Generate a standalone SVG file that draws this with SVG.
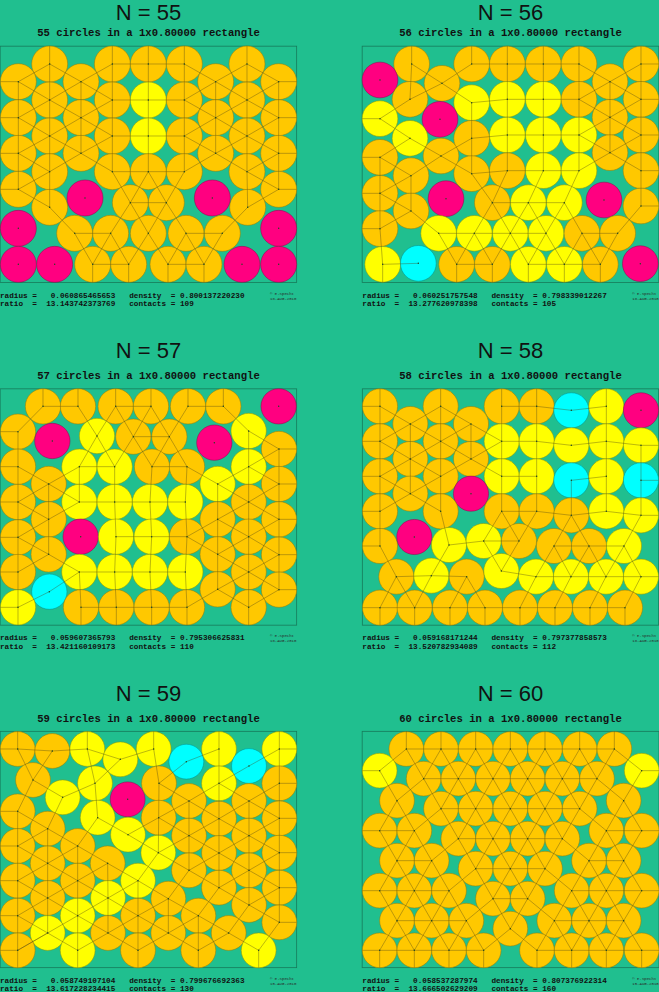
<svg xmlns="http://www.w3.org/2000/svg" width="659" height="992" viewBox="0 0 659 992">
<style>
.bg{fill:#20BF8F}
.frame{fill:none;stroke:#177a5a;stroke-width:2.4}
.o{fill:#FFC800;stroke:#9a7800;stroke-width:1.5}
.y{fill:#FFFF00;stroke:#909000;stroke-width:1.5}
.m{fill:#FF0080;stroke:#900048;stroke-width:1.5}
.c{fill:#00FFFF;stroke:#008c8c;stroke-width:1.5}
.sp{fill:none;stroke:#4a4418;stroke-width:1.6;stroke-linejoin:bevel;stroke-opacity:0.7}
.dot{fill:none;stroke:#1f4a20;stroke-width:4.5;stroke-linecap:round}
.t{font-family:"Liberation Sans",Arial,sans-serif;font-size:22px;fill:#111;text-anchor:middle}
.s{font-family:"Liberation Mono","Courier New",monospace;font-weight:bold;font-size:10.6px;fill:#111;text-anchor:middle}
.d{font-family:"Liberation Mono","Courier New",monospace;font-weight:bold;font-size:7.7px;fill:#111;white-space:pre}
.cr{font-family:"Liberation Mono","Courier New",monospace;font-size:4px;fill:#2a2a2a}
</style>
<rect class="bg" x="0" y="0" width="659" height="992"/>

<g id="panel-55">
<text class="t" x="148.5" y="20">N = 55</text>
<text class="s" x="148.5" y="36.3">55 circles in a 1x0.80000 rectangle</text>
<text class="d" xml:space="preserve" x="0" y="297.7">radius =   0.060865465653   density  = 0.800137220230</text>
<text class="d" xml:space="preserve" x="0" y="306.3">ratio  =  13.143742373769   contacts = 109</text>
<text class="cr" x="270" y="294.5">© E.Specht</text>
<text class="cr" x="270" y="299.5">18-AUG-2010</text>
<g transform="scale(0.333333)">
<rect class="frame" x="0.5" y="138.5" width="889.5" height="709"/>
<circle class="o" cx="149" cy="192" r="54"/><circle class="o" cx="337" cy="192" r="54"/><circle class="o" cx="445" cy="192" r="54"/><circle class="o" cx="553" cy="192" r="54"/><circle class="o" cx="741" cy="192" r="54"/>
<circle class="o" cx="55" cy="245" r="54"/><circle class="o" cx="243" cy="245" r="54"/><circle class="o" cx="647" cy="245" r="54"/><circle class="o" cx="836" cy="245" r="54"/>
<circle class="o" cx="149" cy="300" r="54"/><circle class="o" cx="337" cy="300" r="54"/><circle class="y" cx="445" cy="300" r="54"/><circle class="o" cx="553" cy="300" r="54"/><circle class="o" cx="741" cy="300" r="54"/>
<circle class="o" cx="55" cy="353" r="54"/><circle class="o" cx="243" cy="353" r="54"/><circle class="o" cx="647" cy="353" r="54"/><circle class="o" cx="836" cy="353" r="54"/>
<circle class="o" cx="149" cy="408" r="54"/><circle class="o" cx="337" cy="408" r="54"/><circle class="y" cx="445" cy="408" r="54"/><circle class="o" cx="553" cy="408" r="54"/><circle class="o" cx="741" cy="408" r="54"/>
<circle class="o" cx="55" cy="460" r="54"/><circle class="o" cx="243" cy="460" r="54"/><circle class="o" cx="647" cy="460" r="54"/><circle class="o" cx="836" cy="460" r="54"/>
<circle class="o" cx="149" cy="515" r="54"/><circle class="o" cx="337" cy="515" r="54"/><circle class="o" cx="445" cy="515" r="54"/><circle class="o" cx="553" cy="515" r="54"/><circle class="o" cx="741" cy="515" r="54"/>
<circle class="o" cx="55" cy="568" r="54"/><circle class="o" cx="836" cy="568" r="54"/>
<circle class="o" cx="149" cy="622" r="54"/><circle class="o" cx="743" cy="622" r="54"/>
<circle class="m" cx="255" cy="594" r="54"/><circle class="o" cx="391" cy="608" r="54"/><circle class="o" cx="499" cy="608" r="54"/><circle class="m" cx="637" cy="594" r="54"/>
<circle class="m" cx="55" cy="685" r="54"/><circle class="o" cx="224" cy="700" r="54"/><circle class="o" cx="332" cy="700" r="54"/><circle class="o" cx="445" cy="700" r="54"/><circle class="o" cx="558" cy="700" r="54"/><circle class="o" cx="667" cy="700" r="54"/><circle class="m" cx="836" cy="685" r="54"/>
<circle class="m" cx="55" cy="793" r="54"/><circle class="m" cx="164" cy="793" r="54"/><circle class="o" cx="278" cy="793" r="54"/><circle class="o" cx="386" cy="793" r="54"/><circle class="o" cx="504" cy="793" r="54"/><circle class="o" cx="612" cy="793" r="54"/><circle class="m" cx="726" cy="793" r="54"/><circle class="m" cx="836" cy="793" r="54"/>
</g>
</g>

<g id="panel-56">
<text class="t" x="510.5" y="20">N = 56</text>
<text class="s" x="510.5" y="36.3">56 circles in a 1x0.80000 rectangle</text>
<text class="d" xml:space="preserve" x="362.3" y="297.7">radius =   0.060251757548   density  = 0.798339012267</text>
<text class="d" xml:space="preserve" x="362.3" y="306.3">ratio  =  13.277620978398   contacts = 105</text>
<text class="cr" x="632.3" y="294.5">© E.Specht</text>
<text class="cr" x="632.3" y="299.5">18-AUG-2010</text>
<g transform="translate(330 0) scale(0.333333)">
<rect class="frame" x="96.5" y="138.5" width="890" height="709"/>
<circle class="o" cx="245" cy="192" r="53.6"/><circle class="o" cx="425" cy="192" r="53.6"/><circle class="o" cx="532" cy="192" r="53.6"/><circle class="o" cx="640" cy="192" r="53.6"/><circle class="o" cx="747" cy="192" r="53.6"/><circle class="o" cx="933" cy="192" r="53.6"/>
<circle class="m" cx="150" cy="240" r="53.6"/><circle class="o" cx="336" cy="250" r="53.6"/><circle class="o" cx="840" cy="245" r="53.6"/>
<circle class="o" cx="240" cy="298" r="53.6"/><circle class="y" cx="425" cy="308" r="53.6"/><circle class="y" cx="532" cy="298" r="53.6"/><circle class="y" cx="640" cy="298" r="53.6"/><circle class="o" cx="747" cy="298" r="53.6"/><circle class="o" cx="933" cy="298" r="53.6"/>
<circle class="y" cx="150" cy="356" r="53.6"/><circle class="m" cx="330" cy="358" r="53.6"/><circle class="o" cx="840" cy="352" r="53.6"/>
<circle class="y" cx="240" cy="415" r="53.6"/><circle class="o" cx="425" cy="415" r="53.6"/><circle class="y" cx="532" cy="405" r="53.6"/><circle class="y" cx="640" cy="405" r="53.6"/><circle class="y" cx="747" cy="405" r="53.6"/><circle class="o" cx="933" cy="405" r="53.6"/>
<circle class="o" cx="150" cy="472" r="53.6"/><circle class="o" cx="333" cy="468" r="53.6"/><circle class="o" cx="840" cy="458" r="53.6"/>
<circle class="o" cx="243" cy="527" r="53.6"/><circle class="o" cx="425" cy="521" r="53.6"/><circle class="o" cx="532" cy="512" r="53.6"/><circle class="y" cx="640" cy="512" r="53.6"/><circle class="y" cx="747" cy="512" r="53.6"/><circle class="o" cx="933" cy="512" r="53.6"/>
<circle class="o" cx="150" cy="580" r="53.6"/><circle class="m" cx="348" cy="596" r="53.6"/><circle class="o" cx="487" cy="608" r="53.6"/><circle class="y" cx="595" cy="608" r="53.6"/><circle class="y" cx="703" cy="608" r="53.6"/><circle class="m" cx="822" cy="600" r="53.6"/><circle class="o" cx="933" cy="618" r="53.6"/>
<circle class="o" cx="243" cy="633" r="53.6"/>
<circle class="o" cx="150" cy="686" r="53.6"/><circle class="y" cx="326" cy="700" r="53.6"/><circle class="y" cx="433" cy="700" r="53.6"/><circle class="y" cx="541" cy="700" r="53.6"/><circle class="y" cx="648" cy="700" r="53.6"/><circle class="o" cx="756" cy="700" r="53.6"/><circle class="o" cx="863" cy="700" r="53.6"/>
<circle class="y" cx="158" cy="793" r="53.6"/><circle class="c" cx="265" cy="790" r="53.6"/><circle class="o" cx="380" cy="793" r="53.6"/><circle class="o" cx="487" cy="793" r="53.6"/><circle class="y" cx="595" cy="793" r="53.6"/><circle class="y" cx="703" cy="793" r="53.6"/><circle class="o" cx="811" cy="793" r="53.6"/><circle class="m" cx="931" cy="791" r="53.6"/>
</g>
</g>

<g id="panel-57">
<text class="t" x="148.5" y="358.3">N = 57</text>
<text class="s" x="148.5" y="379">57 circles in a 1x0.80000 rectangle</text>
<text class="d" xml:space="preserve" x="0" y="640.3">radius =   0.059607365793   density  = 0.795306625831</text>
<text class="d" xml:space="preserve" x="0" y="648.9">ratio  =  13.421160109173   contacts = 110</text>
<text class="cr" x="270" y="637.1">© E.Specht</text>
<text class="cr" x="270" y="642.1">18-AUG-2010</text>
<g transform="translate(0 330) scale(0.333333)">
<rect class="frame" x="0.5" y="176.5" width="889.5" height="709"/>
<circle class="o" cx="129" cy="229" r="53"/><circle class="o" cx="234" cy="229" r="53"/><circle class="o" cx="347" cy="229" r="53"/><circle class="o" cx="453" cy="229" r="53"/><circle class="o" cx="564" cy="229" r="53"/><circle class="o" cx="670" cy="229" r="53"/><circle class="m" cx="836" cy="229" r="53"/>
<circle class="o" cx="54" cy="305" r="53"/><circle class="m" cx="157" cy="333" r="53"/><circle class="y" cx="291" cy="318" r="53"/><circle class="o" cx="400" cy="320" r="53"/><circle class="o" cx="508" cy="320" r="53"/><circle class="m" cx="643" cy="338" r="53"/><circle class="y" cx="746" cy="303" r="53"/>
<circle class="o" cx="54" cy="410" r="53"/><circle class="y" cx="238" cy="410" r="53"/><circle class="y" cx="344" cy="410" r="53"/><circle class="o" cx="456" cy="410" r="53"/><circle class="o" cx="561" cy="410" r="53"/><circle class="y" cx="746" cy="410" r="53"/><circle class="o" cx="837" cy="357" r="53"/>
<circle class="o" cx="146" cy="462" r="53"/><circle class="y" cx="653" cy="462" r="53"/><circle class="o" cx="837" cy="462" r="53"/>
<circle class="o" cx="54" cy="516" r="53"/><circle class="y" cx="238" cy="516" r="53"/><circle class="y" cx="344" cy="516" r="53"/><circle class="y" cx="450" cy="516" r="53"/><circle class="y" cx="556" cy="516" r="53"/><circle class="o" cx="746" cy="516" r="53"/>
<circle class="o" cx="146" cy="568" r="53"/><circle class="o" cx="653" cy="568" r="53"/><circle class="o" cx="837" cy="568" r="53"/>
<circle class="o" cx="54" cy="622" r="53"/><circle class="m" cx="242" cy="620" r="53"/><circle class="y" cx="348" cy="620" r="53"/><circle class="y" cx="455" cy="620" r="53"/><circle class="o" cx="561" cy="620" r="53"/><circle class="o" cx="746" cy="620" r="53"/>
<circle class="o" cx="146" cy="673" r="53"/><circle class="o" cx="653" cy="673" r="53"/><circle class="o" cx="837" cy="674" r="53"/>
<circle class="o" cx="54" cy="726" r="53"/><circle class="y" cx="238" cy="726" r="53"/><circle class="y" cx="344" cy="726" r="53"/><circle class="y" cx="450" cy="726" r="53"/><circle class="y" cx="556" cy="726" r="53"/><circle class="o" cx="746" cy="726" r="53"/>
<circle class="c" cx="148" cy="785" r="53"/><circle class="o" cx="653" cy="778" r="53"/><circle class="o" cx="837" cy="779" r="53"/>
<circle class="y" cx="54" cy="832" r="53"/><circle class="o" cx="243" cy="832" r="53"/><circle class="o" cx="349" cy="832" r="53"/><circle class="o" cx="455" cy="832" r="53"/><circle class="o" cx="561" cy="832" r="53"/><circle class="o" cx="746" cy="832" r="53"/>
</g>
</g>

<g id="panel-58">
<text class="t" x="510.5" y="358.3">N = 58</text>
<text class="s" x="510.5" y="379">58 circles in a 1x0.80000 rectangle</text>
<text class="d" xml:space="preserve" x="362.3" y="640.3">radius =   0.059168171244   density  = 0.797377858573</text>
<text class="d" xml:space="preserve" x="362.3" y="648.9">ratio  =  13.520782934089   contacts = 112</text>
<text class="cr" x="632.3" y="637.1">© E.Specht</text>
<text class="cr" x="632.3" y="642.1">18-AUG-2010</text>
<g transform="translate(330 330) scale(0.333333)">
<rect class="frame" x="97" y="176.5" width="889" height="709"/>
<circle class="o" cx="150" cy="229" r="52.7"/><circle class="o" cx="332" cy="229" r="52.7"/><circle class="o" cx="515" cy="229" r="52.7"/><circle class="o" cx="620" cy="229" r="52.7"/><circle class="c" cx="724" cy="241" r="52.7"/><circle class="y" cx="829" cy="229" r="52.7"/><circle class="m" cx="933" cy="241" r="52.7"/>
<circle class="o" cx="241" cy="282" r="52.7"/><circle class="o" cx="423" cy="282" r="52.7"/>
<circle class="o" cx="150" cy="334" r="52.7"/><circle class="o" cx="332" cy="334" r="52.7"/><circle class="y" cx="515" cy="334" r="52.7"/><circle class="y" cx="620" cy="334" r="52.7"/><circle class="y" cx="724" cy="346" r="52.7"/><circle class="y" cx="829" cy="334" r="52.7"/><circle class="y" cx="933" cy="346" r="52.7"/>
<circle class="o" cx="241" cy="387" r="52.7"/><circle class="o" cx="423" cy="387" r="52.7"/>
<circle class="o" cx="150" cy="439" r="52.7"/><circle class="o" cx="332" cy="439" r="52.7"/><circle class="y" cx="515" cy="439" r="52.7"/><circle class="y" cx="620" cy="439" r="52.7"/><circle class="c" cx="724" cy="451" r="52.7"/><circle class="y" cx="829" cy="439" r="52.7"/><circle class="c" cx="933" cy="451" r="52.7"/>
<circle class="o" cx="241" cy="491" r="52.7"/><circle class="m" cx="423" cy="491" r="52.7"/>
<circle class="o" cx="150" cy="544" r="52.7"/><circle class="o" cx="332" cy="544" r="52.7"/><circle class="o" cx="515" cy="544" r="52.7"/><circle class="o" cx="620" cy="544" r="52.7"/><circle class="o" cx="724" cy="556" r="52.7"/><circle class="y" cx="829" cy="544" r="52.7"/><circle class="y" cx="933" cy="556" r="52.7"/>
<circle class="o" cx="150" cy="648" r="52.7"/><circle class="m" cx="253" cy="621" r="52.7"/><circle class="y" cx="357" cy="645" r="52.7"/><circle class="y" cx="461" cy="633" r="52.7"/><circle class="o" cx="567" cy="633" r="52.7"/><circle class="o" cx="672" cy="648" r="52.7"/><circle class="o" cx="777" cy="648" r="52.7"/><circle class="y" cx="882" cy="648" r="52.7"/>
<circle class="o" cx="199" cy="740" r="52.7"/><circle class="y" cx="304" cy="737" r="52.7"/><circle class="o" cx="410" cy="740" r="52.7"/><circle class="y" cx="514" cy="723" r="52.7"/><circle class="y" cx="618" cy="740" r="52.7"/><circle class="y" cx="723" cy="740" r="52.7"/><circle class="y" cx="828" cy="740" r="52.7"/><circle class="y" cx="933" cy="740" r="52.7"/>
<circle class="o" cx="150" cy="833" r="52.7"/><circle class="o" cx="254" cy="833" r="52.7"/><circle class="o" cx="360" cy="833" r="52.7"/><circle class="o" cx="465" cy="833" r="52.7"/><circle class="o" cx="570" cy="833" r="52.7"/><circle class="o" cx="675" cy="833" r="52.7"/><circle class="o" cx="780" cy="833" r="52.7"/><circle class="o" cx="885" cy="833" r="52.7"/>
</g>
</g>

<g id="panel-59">
<text class="t" x="148.5" y="700.7">N = 59</text>
<text class="s" x="148.5" y="721.5">59 circles in a 1x0.80000 rectangle</text>
<text class="d" xml:space="preserve" x="0" y="982.7">radius =   0.058749107104   density  = 0.799676692363</text>
<text class="d" xml:space="preserve" x="0" y="991.3">ratio  =  13.617228234415   contacts = 130</text>
<text class="cr" x="270" y="979.5">© E.Specht</text>
<text class="cr" x="270" y="984.5">15-AUG-2010</text>
<g transform="translate(0 670) scale(0.333333)">
<rect class="frame" x="0.5" y="184" width="889.5" height="709"/>
<circle class="o" cx="53" cy="237" r="52.3"/><circle class="o" cx="157" cy="243" r="52.3"/><circle class="y" cx="262" cy="237" r="52.3"/><circle class="y" cx="361" cy="268" r="52.3"/><circle class="y" cx="461" cy="237" r="52.3"/><circle class="c" cx="559" cy="275" r="52.3"/><circle class="y" cx="657" cy="237" r="52.3"/><circle class="c" cx="747" cy="288" r="52.3"/><circle class="y" cx="838" cy="237" r="52.3"/>
<circle class="o" cx="99" cy="330" r="52.3"/><circle class="y" cx="188" cy="382" r="52.3"/><circle class="y" cx="285" cy="340" r="52.3"/><circle class="m" cx="383" cy="388" r="52.3"/><circle class="o" cx="477" cy="340" r="52.3"/><circle class="o" cx="567" cy="393" r="52.3"/><circle class="y" cx="657" cy="340" r="52.3"/><circle class="o" cx="747" cy="393" r="52.3"/><circle class="o" cx="838" cy="340" r="52.3"/>
<circle class="o" cx="53" cy="424" r="52.3"/><circle class="o" cx="143" cy="476" r="52.3"/><circle class="y" cx="293" cy="443" r="52.3"/><circle class="y" cx="384" cy="494" r="52.3"/><circle class="o" cx="476" cy="443" r="52.3"/><circle class="o" cx="567" cy="497" r="52.3"/><circle class="o" cx="657" cy="446" r="52.3"/><circle class="o" cx="747" cy="497" r="52.3"/><circle class="o" cx="838" cy="445" r="52.3"/>
<circle class="o" cx="53" cy="528" r="52.3"/><circle class="o" cx="233" cy="528" r="52.3"/><circle class="y" cx="475" cy="548" r="52.3"/><circle class="o" cx="657" cy="549" r="52.3"/><circle class="o" cx="838" cy="548" r="52.3"/>
<circle class="o" cx="143" cy="580" r="52.3"/><circle class="o" cx="323" cy="580" r="52.3"/><circle class="o" cx="567" cy="601" r="52.3"/><circle class="o" cx="747" cy="601" r="52.3"/>
<circle class="o" cx="53" cy="632" r="52.3"/><circle class="o" cx="233" cy="632" r="52.3"/><circle class="y" cx="414" cy="632" r="52.3"/><circle class="o" cx="657" cy="653" r="52.3"/><circle class="o" cx="838" cy="653" r="52.3"/>
<circle class="o" cx="143" cy="684" r="52.3"/><circle class="y" cx="324" cy="684" r="52.3"/><circle class="o" cx="505" cy="686" r="52.3"/><circle class="o" cx="747" cy="705" r="52.3"/>
<circle class="o" cx="53" cy="737" r="52.3"/><circle class="y" cx="233" cy="737" r="52.3"/><circle class="o" cx="414" cy="737" r="52.3"/><circle class="o" cx="595" cy="737" r="52.3"/><circle class="o" cx="838" cy="757" r="52.3"/>
<circle class="y" cx="143" cy="789" r="52.3"/><circle class="o" cx="324" cy="789" r="52.3"/><circle class="o" cx="505" cy="789" r="52.3"/><circle class="o" cx="686" cy="789" r="52.3"/>
<circle class="o" cx="53" cy="841" r="52.3"/><circle class="y" cx="233" cy="841" r="52.3"/><circle class="o" cx="414" cy="841" r="52.3"/><circle class="o" cx="595" cy="841" r="52.3"/><circle class="y" cx="776" cy="841" r="52.3"/>
</g>
</g>

<g id="panel-60">
<text class="t" x="510.5" y="700.7">N = 60</text>
<text class="s" x="510.5" y="721.5">60 circles in a 1x0.80000 rectangle</text>
<text class="d" xml:space="preserve" x="362.3" y="982.7">radius =   0.058537287974   density  = 0.807376922314</text>
<text class="d" xml:space="preserve" x="362.3" y="991.3">ratio  =  13.666502629209   contacts = 160</text>
<text class="cr" x="632.3" y="979.5">© E.Specht</text>
<text class="cr" x="632.3" y="984.5">15-AUG-2010</text>
<g transform="translate(330 670) scale(0.333333)">
<rect class="frame" x="96.5" y="184" width="890.5" height="709"/>
<circle class="o" cx="229" cy="237" r="52.1"/><circle class="o" cx="333" cy="237" r="52.1"/><circle class="o" cx="437" cy="237" r="52.1"/><circle class="o" cx="541" cy="237" r="52.1"/><circle class="o" cx="645" cy="237" r="52.1"/><circle class="o" cx="749" cy="237" r="52.1"/><circle class="o" cx="853" cy="237" r="52.1"/>
<circle class="y" cx="149" cy="302" r="52.1"/><circle class="y" cx="935" cy="302" r="52.1"/>
<circle class="o" cx="281" cy="326" r="52.1"/><circle class="o" cx="385" cy="326" r="52.1"/><circle class="o" cx="489" cy="326" r="52.1"/><circle class="o" cx="593" cy="326" r="52.1"/><circle class="o" cx="697" cy="326" r="52.1"/><circle class="o" cx="801" cy="326" r="52.1"/>
<circle class="o" cx="201" cy="392" r="52.1"/><circle class="o" cx="881" cy="392" r="52.1"/>
<circle class="o" cx="333" cy="416" r="52.1"/><circle class="o" cx="437" cy="416" r="52.1"/><circle class="o" cx="541" cy="416" r="52.1"/><circle class="o" cx="645" cy="416" r="52.1"/><circle class="o" cx="749" cy="416" r="52.1"/>
<circle class="o" cx="149" cy="482" r="52.1"/><circle class="o" cx="253" cy="482" r="52.1"/><circle class="o" cx="385" cy="506" r="52.1"/><circle class="o" cx="489" cy="506" r="52.1"/><circle class="o" cx="593" cy="506" r="52.1"/><circle class="o" cx="697" cy="506" r="52.1"/><circle class="o" cx="829" cy="482" r="52.1"/><circle class="o" cx="935" cy="482" r="52.1"/>
<circle class="o" cx="201" cy="572" r="52.1"/><circle class="o" cx="305" cy="572" r="52.1"/><circle class="o" cx="437" cy="596" r="52.1"/><circle class="o" cx="541" cy="596" r="52.1"/><circle class="o" cx="645" cy="596" r="52.1"/><circle class="o" cx="777" cy="572" r="52.1"/><circle class="o" cx="881" cy="572" r="52.1"/>
<circle class="o" cx="149" cy="662" r="52.1"/><circle class="o" cx="253" cy="662" r="52.1"/><circle class="o" cx="357" cy="662" r="52.1"/><circle class="o" cx="489" cy="686" r="52.1"/><circle class="o" cx="593" cy="686" r="52.1"/><circle class="o" cx="725" cy="662" r="52.1"/><circle class="o" cx="829" cy="662" r="52.1"/><circle class="o" cx="935" cy="662" r="52.1"/>
<circle class="o" cx="201" cy="752" r="52.1"/><circle class="o" cx="305" cy="752" r="52.1"/><circle class="o" cx="409" cy="752" r="52.1"/><circle class="o" cx="541" cy="776" r="52.1"/><circle class="o" cx="673" cy="752" r="52.1"/><circle class="o" cx="777" cy="752" r="52.1"/><circle class="o" cx="881" cy="752" r="52.1"/>
<circle class="o" cx="149" cy="841" r="52.1"/><circle class="o" cx="253" cy="841" r="52.1"/><circle class="o" cx="357" cy="841" r="52.1"/><circle class="o" cx="461" cy="841" r="52.1"/><circle class="o" cx="621" cy="841" r="52.1"/><circle class="o" cx="725" cy="841" r="52.1"/><circle class="o" cx="829" cy="841" r="52.1"/><circle class="o" cx="935" cy="841" r="52.1"/>
</g>
</g>

<g id="contacts">
<g transform="scale(0.333333)">
<path class="sp" d="M149 192V138M337 192V138M445 192V138M553 192V138M741 192V138M55 245H1M55 353H1M55 460H1M55 568H1M836 245H890M836 353H890M836 460H890M836 568H890M278 793V847M386 793V847M504 793V847M612 793V847M149 192V622M337 192V515M445 192V515M553 192V515M741 192V515L743 622M55 245V568M243 245V460M647 245V460M836 245V568M337 192H553M337 300H553M337 408H553M337 515H553M149 192 55 245 149 300 55 353 149 408 55 460 149 515 55 568 149 622M149 192 243 245 149 300 243 353 149 408 243 460 149 515M337 192 243 245 337 300 243 353 337 408 243 460 337 515M553 192 647 245 553 300 647 353 553 408 647 460 553 515M741 192 647 245 741 300 647 353 741 408 647 460 741 515M741 192 836 245 741 300 836 353 741 408 836 460 741 515 836 568 743 622M149 622 224 700M743 622 667 700M337 515 391 608 445 515M391 608 499 608M332 700 391 608 445 700M445 515 499 608 553 515M445 700 499 608 558 700M224 700 332 700M224 700 278 793M278 793 332 700 386 793M386 793 445 700 504 793M504 793 558 700 612 793M558 700 667 700M667 700 612 793M278 793 386 793M504 793 612 793"/>
<path class="dot" d="M149 192h0M337 192h0M445 192h0M553 192h0M741 192h0M55 245h0M243 245h0M647 245h0M836 245h0M149 300h0M337 300h0M445 300h0M553 300h0M741 300h0M55 353h0M243 353h0M647 353h0M836 353h0M149 408h0M337 408h0M445 408h0M553 408h0M741 408h0M55 460h0M243 460h0M647 460h0M836 460h0M149 515h0M337 515h0M445 515h0M553 515h0M741 515h0M55 568h0M836 568h0M149 622h0M743 622h0M255 594h0M391 608h0M499 608h0M637 594h0M55 685h0M224 700h0M332 700h0M445 700h0M558 700h0M667 700h0M836 685h0M55 793h0M164 793h0M278 793h0M386 793h0M504 793h0M612 793h0M726 793h0M836 793h0"/>
</g>
<g transform="translate(330 0) scale(0.333333)">
<path class="sp" d="M245 192V138.5M425 192V138.5M532 192V138.5M640 192V138.5M747 192V138.5M933 192V138.5M150 356H96.5M150 472H96.5M150 580H96.5M150 686H96.5M933 192H986.5M933 298H986.5M933 405H986.5M933 512H986.5M933 618H986.5M158 793V847.5M380 793V847.5M487 793V847.5M595 793V847.5M703 793V847.5M811 793V847.5M245 192 240 298M245 192 336 250M425 192H747M425 192 336 250M532 192V512M640 192V512M747 192V512M747 192 840 245M933 192V618M933 192 840 245M336 250 240 298M336 250 425 308M747 298 840 245 933 298M840 245V458M240 298 150 356M425 308 532 298H747M425 308 425 415M747 298 840 352 933 298M747 405 840 352 933 405M150 356 240 415M240 415 150 472M240 415 333 468M425 415 532 405H747M425 415 333 468M425 415 425 521M747 405 840 458 933 405M747 512 840 458 933 512M150 472 243 527M150 472V686M333 468 243 527M333 468 425 521M243 527 150 580M243 527V633M425 521 532 512H747M425 521 487 608M532 512 487 608M640 512 595 608M747 512 703 608M150 580 243 633M487 608H703M433 700 487 608 541 700M541 700 595 608 648 700M648 700 703 608 756 700M933 618 863 700M243 633 150 686M243 633 326 700M150 686 158 793M326 700H648M326 700 380 793M380 793 433 700 487 793M487 793 541 700 595 793M595 793 648 700 703 793M703 793 756 700 811 793M756 700H863M863 700 811 793M158 793 265 790M380 793H487M595 793H811"/>
<path class="dot" d="M245 192h0M425 192h0M532 192h0M640 192h0M747 192h0M933 192h0M336 250h0M840 245h0M240 298h0M747 298h0M933 298h0M840 352h0M425 415h0M933 405h0M150 472h0M333 468h0M840 458h0M243 527h0M425 521h0M532 512h0M933 512h0M150 580h0M487 608h0M933 618h0M243 633h0M150 686h0M756 700h0M863 700h0M380 793h0M487 793h0M811 793h0M425 308h0M532 298h0M640 298h0M150 356h0M240 415h0M532 405h0M640 405h0M747 405h0M640 512h0M747 512h0M595 608h0M703 608h0M326 700h0M433 700h0M541 700h0M648 700h0M158 793h0M595 793h0M703 793h0M265 790h0M150 240h0M330 358h0M348 596h0M822 600h0M931 791h0"/>
</g>
<g transform="translate(0 330) scale(0.333333)">
<path class="sp" d="M129 229V176.5M234 229V176.5M347 229V176.5M453 229V176.5M564 229V176.5M670 229V176.5M54 305H0.5M54 410H0.5M54 516H0.5M54 622H0.5M54 726H0.5M54 832H0.5M837 357H890M837 462H890M837 568H890M837 674H890M837 779H890M54 832V885.5M243 832V885.5M349 832V885.5M455 832V885.5M561 832V885.5M746 832V885.5M129 229H234M129 229 54 305M234 229 291 318M347 229H453M291 318 347 229 400 320M400 320 453 229 508 320M564 229H670M564 229 508 320M670 229 746 303M54 305V832M238 410 291 318 344 410M400 320H508M344 410 400 320 456 410M456 410 508 320 561 410M746 303V832M746 303 837 357M54 410 146 462 54 516 146 568 54 622 146 673 54 726M238 410 146 462 238 516 146 568M146 673 238 726M146 462V673M238 410H344M238 410V516M344 410V516M456 410H561M456 410 450 516M561 410 556 516M561 410 653 462M653 462 746 410 837 462M746 410 837 357M837 357V779M653 462 746 516M653 462V778M837 462 746 516M238 516H556M344 516 348 620M450 516 455 620M556 516 561 620M653 568 746 516 837 568M653 568 561 620M653 568 746 620M837 568 746 620M348 620H561M348 620 344 726M455 620 450 726M561 620 556 726M561 620 653 673M653 673 746 620 837 674M653 673 746 726M837 674 746 726M238 726H556M238 726 243 832M344 726 349 832M450 726 455 832M556 726 561 832M148 785 54 832M148 785 238 726M653 778 746 726 837 779M561 832 653 778 746 832M837 779 746 832M243 832H561"/>
<path class="dot" d="M129 229h0M234 229h0M347 229h0M453 229h0M564 229h0M670 229h0M54 305h0M400 320h0M508 320h0M54 410h0M456 410h0M561 410h0M837 357h0M146 462h0M837 462h0M54 516h0M746 516h0M146 568h0M653 568h0M837 568h0M54 622h0M561 620h0M746 620h0M146 673h0M653 673h0M837 674h0M54 726h0M746 726h0M653 778h0M837 779h0M243 832h0M349 832h0M455 832h0M561 832h0M746 832h0M291 318h0M746 303h0M238 410h0M344 410h0M746 410h0M653 462h0M238 516h0M344 516h0M450 516h0M556 516h0M348 620h0M455 620h0M238 726h0M344 726h0M450 726h0M556 726h0M54 832h0M148 785h0M836 229h0M157 333h0M643 338h0M242 620h0"/>
</g>
<g transform="translate(330 330) scale(0.333333)">
<path class="sp" d="M150 229V176.5M332 229V176.5M515 229V176.5M620 229V176.5M829 229V176.5M150 229H97M150 334H97M150 439H97M150 544H97M150 648H97M150 833H97M933 346H986M933 451H986M933 556H986M933 740H986M150 833V885.5M254 833V885.5M360 833V885.5M465 833V885.5M570 833V885.5M675 833V885.5M780 833V885.5M885 833V885.5M150 229V648M150 229 241 282 150 334 241 387 150 439 241 491 150 544M332 229 241 282 332 334 241 387 332 439 241 491 332 544M241 282V491M332 229V544M332 229 423 282 332 334 423 387 332 439M423 282V387M423 282 515 334 423 387 515 439M515 229V544M620 229V544M515 229H620L724 241 829 229M829 229V544M933 346V556M515 334H620L724 346 829 334 933 346M515 439H620M724 451 829 439M724 451V556M515 544H620L724 556 829 544 933 556M332 544 357 645M461 633 515 544 567 633M620 544 567 633M672 648 724 556 777 648M933 556 882 648M150 648 199 740M357 645 461 633H567M357 645 304 737M461 633 514 723 567 633M672 648H882M618 740 672 648 723 740M723 740 777 648 828 740M828 740 882 648 933 740M199 740 304 737 410 740M514 723 618 740H933M150 833 199 740 254 833M304 737 254 833M360 833 410 740 465 833M618 740 570 833M723 740 675 833M828 740 780 833M933 740 885 833M150 833H885"/>
<path class="dot" d="M150 229h0M332 229h0M515 229h0M620 229h0M241 282h0M423 282h0M150 334h0M332 334h0M241 387h0M423 387h0M150 439h0M332 439h0M241 491h0M150 544h0M332 544h0M515 544h0M620 544h0M724 556h0M150 648h0M567 633h0M672 648h0M777 648h0M199 740h0M410 740h0M150 833h0M254 833h0M360 833h0M465 833h0M570 833h0M675 833h0M780 833h0M885 833h0M829 229h0M515 334h0M620 334h0M724 346h0M829 334h0M933 346h0M515 439h0M620 439h0M829 439h0M829 544h0M933 556h0M357 645h0M461 633h0M882 648h0M304 737h0M514 723h0M618 740h0M723 740h0M828 740h0M933 740h0M724 241h0M724 451h0M933 451h0M933 241h0M423 491h0M253 621h0"/>
</g>
<g transform="translate(0 670) scale(0.333333)">
<path class="sp" d="M53 237V184M262 237V184M461 237V184M657 237V184M838 237V184M53 237H0.5M53 424H0.5M53 528H0.5M53 632H0.5M53 737H0.5M53 841H0.5M838 237H890M838 340H890M838 445H890M838 548H890M838 653H890M838 757H890M53 841V893M233 841V893M414 841V893M595 841V893M776 841V893M53 237 157 243 262 237 361 268 461 237M53 237 99 330M157 243 99 330M262 237 285 340M361 268 285 340M461 237 477 340M477 340 559 275 657 237M657 237V340M657 340 747 288 838 237M838 237V757M99 330 188 382M99 330 53 424M188 382 285 340M188 382 143 476M285 340 293 443M477 340 476 443M477 340 567 393M567 393 657 340M567 393 476 443M567 393V601M567 393 657 446M657 340 747 393M657 340V653M747 393 838 340M657 446 747 393 838 445M747 393V705M53 424 143 476M53 424V841M53 528 143 476 233 528M143 476V789M293 443 384 494M293 443 233 528M384 494 476 443M384 494 475 548M476 443 567 497M476 443 475 548M567 497 657 446M567 497 657 549M567 497 475 548M657 446 747 497M747 497 838 445M747 497 657 549M747 497 838 548M53 528 143 580 53 632 143 684 53 737 143 789 53 841M143 580 233 528 323 580M233 528V841M475 548 567 601M475 548 414 632M567 601 657 549 747 601M838 548 747 601M143 580 233 632M323 580 233 632M323 580 414 632M323 580 324 684V789M567 601 657 653M567 601 505 686M657 653 747 601 838 653M143 684 233 632 324 684M414 632 324 684M414 632 505 686M414 632V841M657 653 747 705M657 653 595 737M838 653 747 705M143 684 233 737M324 684 233 737M324 684 414 737M414 737 505 686 595 737M505 686V789M747 705 838 757M747 705 686 789M143 789 233 737 324 789M324 789 414 737 505 789M505 789 595 737 686 789M595 737V841M838 757 776 841M53 841 143 789 233 841M233 841 324 789 414 841M414 841 505 789 595 841M595 841 686 789 776 841"/>
<path class="dot" d="M53 237h0M157 243h0M262 237h0M361 268h0M461 237h0M559 275h0M657 237h0M747 288h0M838 237h0M99 330h0M188 382h0M285 340h0M383 388h0M477 340h0M567 393h0M657 340h0M747 393h0M838 340h0M53 424h0M143 476h0M293 443h0M384 494h0M476 443h0M567 497h0M657 446h0M747 497h0M838 445h0M53 528h0M233 528h0M475 548h0M657 549h0M838 548h0M143 580h0M323 580h0M567 601h0M747 601h0M53 632h0M233 632h0M414 632h0M657 653h0M838 653h0M143 684h0M324 684h0M505 686h0M747 705h0M53 737h0M233 737h0M414 737h0M595 737h0M838 757h0M143 789h0M324 789h0M505 789h0M686 789h0M53 841h0M233 841h0M414 841h0M595 841h0M776 841h0"/>
</g>
<g transform="translate(330 670) scale(0.333333)">
<path class="sp" d="M229 237V184M333 237V184M437 237V184M541 237V184M645 237V184M749 237V184M853 237V184M149 302H97M149 482H97M149 662H97M149 841H97M935 302H987M935 482H987M935 662H987M935 841H987M149 841V893M253 841V893M357 841V893M461 841V893M621 841V893M725 841V893M829 841V893M935 841V893M229 237H853M229 237 281 326 333 237 385 326 437 237 489 326 541 237 593 326 645 237 697 326 749 237 801 326 853 237M229 237 149 302 201 392M853 237 935 302 881 392M281 326H801M281 326 201 392M801 326 881 392M281 326 333 416 385 326 437 416 489 326 541 416 593 326 645 416 697 326 749 416 801 326M149 482 201 392 253 482M829 482 881 392 935 482M333 416H749M333 416 253 482M333 416 385 506 437 416 489 506 541 416 593 506 645 416 697 506 749 416M749 416 829 482M149 482H253M385 506H697M829 482H935M149 482 201 572 253 482 305 572M385 506 305 572M385 506 437 596 489 506 541 596 593 506 645 596 697 506M697 506 777 572M777 572 829 482 881 572 935 482M201 572H305M437 596H645M777 572H881M149 662 201 572 253 662 305 572 357 662M437 596 357 662M437 596 489 686 541 596 593 686 645 596M645 596 725 662M725 662 777 572 829 662 881 572 935 662M149 662H357M489 686H593M725 662H935M149 662 201 752 253 662 305 752 357 662 409 752M489 686 409 752M489 686 541 776 593 686M593 686 673 752M673 752 725 662 777 752 829 662 881 752 935 662M201 752H409M673 752H881M149 841 201 752 253 841 305 752 357 841 409 752 461 841M461 841 541 776 621 841M621 841 673 752 725 841 777 752 829 841 881 752 935 841M149 841H461M621 841H935"/>
<path class="dot" d="M229 237h0M333 237h0M437 237h0M541 237h0M645 237h0M749 237h0M853 237h0M149 302h0M935 302h0M281 326h0M385 326h0M489 326h0M593 326h0M697 326h0M801 326h0M201 392h0M881 392h0M333 416h0M437 416h0M541 416h0M645 416h0M749 416h0M149 482h0M253 482h0M385 506h0M489 506h0M593 506h0M697 506h0M829 482h0M935 482h0M201 572h0M305 572h0M437 596h0M541 596h0M645 596h0M777 572h0M881 572h0M149 662h0M253 662h0M357 662h0M489 686h0M593 686h0M725 662h0M829 662h0M935 662h0M201 752h0M305 752h0M409 752h0M541 776h0M673 752h0M777 752h0M881 752h0M149 841h0M253 841h0M357 841h0M461 841h0M621 841h0M725 841h0M829 841h0M935 841h0"/>
</g>
</g>
</svg>
